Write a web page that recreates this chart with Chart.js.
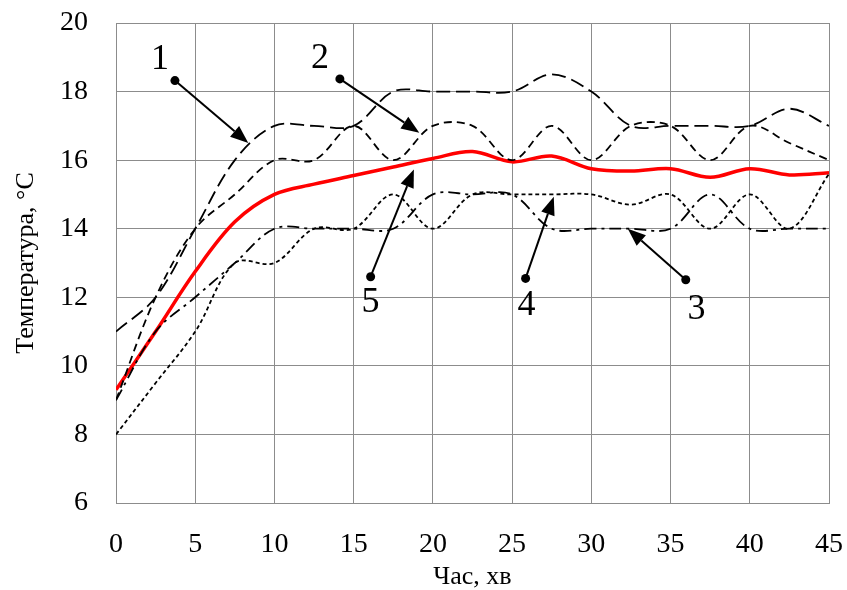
<!DOCTYPE html>
<html>
<head>
<meta charset="utf-8">
<script src="https://cdn.jsdelivr.net/npm/chart.js@4.4.0/dist/chart.umd.min.js"></script>
<style>
  html, body { margin: 0; padding: 0; background: #fff; }
</style>
</head>
<body>
<canvas id="myChart" width="847" height="590"></canvas>
<script>
// time, min
const times = [0, 2.5, 5, 7.5, 10, 12.5, 15, 17.5, 20, 22.5, 25, 27.5, 30, 32.5, 35, 37.5, 40, 42.5, 45];
// temperatures, C
const temp1 = [11, 12, 14, 16, 17, 17, 17, 18, 18, 18, 18, 18.5, 18, 17, 17, 17, 17, 17.5, 17];
const temp2 = [9, 12, 14, 15, 16, 16, 17, 16, 17, 17, 16, 17, 16, 17, 17, 16, 17, 16.5, 16];
const temp3 = [9, 11, 12, 13, 14, 14, 14, 14, 15, 15, 15, 14, 14, 14, 14, 15, 14, 14, 14];
const temp4 = [8, 9.5, 11, 13, 13, 14, 14, 15, 14, 15, 15, 15, 15, 14.7, 15, 14, 15, 14, 15.6];
const temp5 = [9.3, 11, 12.75, 14.2, 15, 15.3, 15.55, 15.8, 16.05, 16.25, 15.95, 16.12, 15.75, 15.68, 15.75, 15.5, 15.75, 15.57, 15.63];

const serif = "'Liberation Serif', 'Times New Roman', serif";

function pts(ys) {
  return times.map((t, i) => ({ x: t, y: ys[i] }));
}

// curve numbers with leader arrows: text pos, dot pos, arrow tip (data coords)
const callouts = [
  { text: "1", tx: 2.78, ty: 18.93, dx: 3.72, dy: 18.32, ax: 8.35, ay: 16.5 },
  { text: "2", tx: 12.87, ty: 18.97, dx: 14.13, dy: 18.37, ax: 19.14, ay: 16.8 },
  { text: "3", tx: 36.64, ty: 11.65, dx: 35.96, dy: 12.51, ax: 32.3, ay: 14.0 },
  { text: "4", tx: 25.91, ty: 11.75, dx: 25.85, dy: 12.55, ax: 27.63, ay: 14.93 },
  { text: "5", tx: 16.07, ty: 11.85, dx: 16.07, dy: 12.6, ax: 18.8, ay: 15.73 },
];

const calloutPlugin = {
  id: "callouts",
  afterDatasetsDraw(chart) {
    const ctx = chart.ctx;
    const xs = chart.scales.x, ys = chart.scales.y;
    ctx.save();
    callouts.forEach(c => {
      const x0 = xs.getPixelForValue(c.dx), y0 = ys.getPixelForValue(c.dy);
      const x1 = xs.getPixelForValue(c.ax), y1 = ys.getPixelForValue(c.ay);
      const ang = Math.atan2(y1 - y0, x1 - x0);
      const hl = 18, hw = 7;
      const bx = x1 - hl * Math.cos(ang), by = y1 - hl * Math.sin(ang);
      ctx.strokeStyle = "#000";
      ctx.fillStyle = "#000";
      ctx.lineWidth = 2;
      ctx.beginPath();
      ctx.moveTo(x0, y0);
      ctx.lineTo(bx, by);
      ctx.stroke();
      ctx.beginPath();
      ctx.moveTo(x1, y1);
      ctx.lineTo(bx + hw * Math.sin(ang), by - hw * Math.cos(ang));
      ctx.lineTo(bx - hw * Math.sin(ang), by + hw * Math.cos(ang));
      ctx.closePath();
      ctx.fill();
      ctx.beginPath();
      ctx.arc(x0, y0, 4.5, 0, Math.PI * 2);
      ctx.fill();
      ctx.font = "36px " + serif;
      ctx.textAlign = "center";
      ctx.textBaseline = "middle";
      ctx.fillText(c.text, xs.getPixelForValue(c.tx), ys.getPixelForValue(c.ty));
    });
    ctx.restore();
  }
};

function myLoadFunction() {
  const ctx = document.getElementById("myChart").getContext("2d");
  const black = { borderColor: "#000", borderWidth: 1.8, fill: false, pointRadius: 0, tension: 0.35 };
  var myChartConfig = {
    type: "line",
    data: {
      datasets: [
        { ...black, label: "1", data: pts(temp1), borderDash: [14, 6] },
        { ...black, label: "2", data: pts(temp2), borderDash: [8, 5] },
        { ...black, label: "3", data: pts(temp3), borderDash: [12, 5, 3, 5] },
        { ...black, label: "4", data: pts(temp4), borderDash: [4, 3] },
        { label: "5", data: pts(temp5), borderColor: "#ff0000", borderWidth: 3.5, fill: false, pointRadius: 0, tension: 0.35 },
      ],
    },
    options: {
      responsive: false,
      animation: false,
      layout: { padding: { top: 23, right: 18, left: 0, bottom: 0 } },
      plugins: { legend: { display: false }, tooltip: { enabled: false } },
      scales: {
        x: {
          type: "linear",
          min: 0,
          max: 45,
          afterFit: s => { s.height = 87; s.paddingLeft = 0; s.paddingRight = 0; },
          ticks: { stepSize: 5, color: "#000", font: { family: serif, size: 28 }, padding: 25, maxRotation: 0 },
          grid: { color: "#8c8c8c", drawTicks: false },
          border: { color: "#8c8c8c" },
          title: { display: true, text: "Час, хв", color: "#000", font: { family: serif, size: 26, lineHeight: 1 }, padding: 0 },
        },
        y: {
          min: 6,
          max: 20,
          afterFit: s => { s.width = 116; s.paddingTop = 0; s.paddingBottom = 0; },
          ticks: { stepSize: 2, color: "#000", font: { family: serif, size: 28 }, padding: 28 },
          grid: { color: "#8c8c8c", drawTicks: false },
          border: { color: "#8c8c8c" },
          title: { display: true, text: "Температура, °C", color: "#000", font: { family: serif, size: 26 }, padding: { top: 11, bottom: 0 } },
        },
      },
    },
    plugins: [calloutPlugin],
  };
  const myChart = new Chart(ctx, myChartConfig);
}

document.addEventListener("DOMContentLoaded", myLoadFunction);
</script>
</body>
</html>
